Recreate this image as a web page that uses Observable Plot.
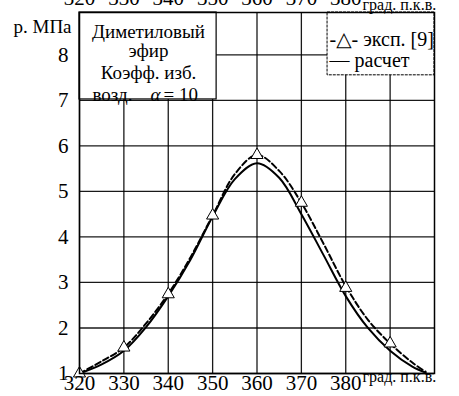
<!DOCTYPE html>
<html>
<head>
<meta charset="utf-8">
<script src="https://cdn.jsdelivr.net/npm/d3@7"></script>
<script src="https://cdn.jsdelivr.net/npm/@observablehq/plot@0.6"></script>
<style>
  html, body { margin: 0; padding: 0; background: white; }
  #chart svg, #chart svg text, #chart svg g { font-family: "Liberation Serif", Tinos, "DejaVu Serif", "Times New Roman", serif !important; }
</style>
</head>
<body>
<div id="chart"></div>
<script>
// ---- data ----
const xTickLabels = [320, 330, 340, 350, 360, 370, 380];
const yTickLabels = [1, 2, 3, 4, 5, 6, 7, 8];
const xGrid = [320, 330, 340, 350, 360, 370, 380, 390];
const yGrid = [1, 2, 3, 4, 5, 6, 7, 8];

// calculated curve ("расчет")
const calcAngle = [320, 325, 330, 335, 340, 345, 350, 355, 360, 365, 370, 375, 380, 385, 390, 395, 398];
const calcP     = [1.0, 1.2, 1.5, 2.02, 2.7, 3.5, 4.45, 5.27, 5.62, 5.3, 4.5, 3.6, 2.7, 2.0, 1.5, 1.15, 1.02];

// experimental dashed curve ("эксп. [9]")
const expCurveAngle = [320, 325, 330, 335, 340, 345, 350, 355, 360, 365, 370, 375, 380, 385, 390, 395, 398];
const expCurveP     = [1.0, 1.27, 1.57, 2.1, 2.75, 3.55, 4.47, 5.38, 5.8, 5.45, 4.75, 3.85, 2.92, 2.18, 1.66, 1.24, 1.04];

// experimental points (triangles)
const expAngle = [320, 330, 340, 350, 360, 370, 380, 390];
const expP     = [1.0, 1.57, 2.74, 4.47, 5.8, 4.75, 2.88, 1.66];

// annotation / legend texts
const noteLines = ["Диметиловый", "эфир", "Коэфф. изб."];
const noteLast = ["возд.", "α", "= 10"];
const legendExp = "-△- эксп. [9]";
const legendCalc = "— расчет";
const yUnit = "р. МПа";
const xUnit = "град. п.к.в.";

const calc = calcAngle.map((a, i) => ({a, p: calcP[i]}));
const expCurve = expCurveAngle.map((a, i) => ({a, p: expCurveP[i]}));
const exp = expAngle.map((a, i) => ({a, p: expP[i]}));

// box extents (in data units) for the note box and legend box
const noteBox = [{x1: 320, x2: 350.9, y1: 7.02, y2: 8.93}];
const legendBox = [{x1: 375.9, x2: 400, y1: 7.55, y2: 8.93}];

const serif = "Liberation Serif, DejaVu Serif, serif";

const plot = Plot.plot({
  width: 459,
  height: 396,
  marginLeft: 79,
  marginRight: 25,
  marginTop: 12,
  marginBottom: 23,
  style: {fontFamily: serif, fontSize: "20px", color: "black", background: "white", overflow: "visible"},
  x: {domain: [320, 400]},
  y: {domain: [1, 8.93]},
  marks: [
    Plot.gridX(xGrid, {stroke: "black", strokeOpacity: 0.9, strokeWidth: 1.3}),
    Plot.gridY(yGrid, {stroke: "black", strokeOpacity: 0.9, strokeWidth: 1.3}),
    Plot.rect(noteBox, {x1: "x1", x2: "x2", y1: "y1", y2: "y2", fill: "white", stroke: "black", strokeWidth: 1.2}),
    Plot.rect(legendBox, {x1: "x1", x2: "x2", y1: "y1", y2: "y2", fill: "white", stroke: "black", strokeWidth: 1, strokeDasharray: "3,1"}),
    Plot.line(expCurve, {x: "a", y: "p", curve: "catmull-rom", stroke: "black", strokeWidth: 2, strokeDasharray: "6,3"}),
    Plot.line(calc, {x: "a", y: "p", curve: "catmull-rom", stroke: "black", strokeWidth: 2}),
    Plot.dot(exp, {x: "a", y: "p", symbol: "triangle", r: 4.5, fill: "white", stroke: "black", strokeWidth: 1}),
    // note box text
    Plot.text([noteLines[0]], {frameAnchor: "top-left", dx: 69, dy: 12, fontSize: 19, textAnchor: "middle", fontFamily: serif}),
    Plot.text([noteLines[1]], {frameAnchor: "top-left", dx: 69, dy: 31, fontSize: 19, textAnchor: "middle", fontFamily: serif}),
    Plot.text([noteLines[2]], {frameAnchor: "top-left", dx: 69, dy: 53, fontSize: 19, textAnchor: "middle", fontFamily: serif}),
    Plot.text([noteLast[0]], {frameAnchor: "top-left", dx: 13, dy: 75, fontSize: 19, textAnchor: "start", fontFamily: serif}),
    Plot.text([noteLast[1]], {frameAnchor: "top-left", dx: 71, dy: 75, fontSize: 19, textAnchor: "start", fontStyle: "italic", fontFamily: serif}),
    Plot.text([noteLast[2]], {frameAnchor: "top-left", dx: 84, dy: 75, fontSize: 19, textAnchor: "start", fontFamily: serif}),
    // legend text
    Plot.text([legendExp], {frameAnchor: "top-right", dx: -105, dy: 19, fontSize: 20, textAnchor: "start", fontFamily: serif}),
    Plot.text([legendCalc], {frameAnchor: "top-right", dx: -105, dy: 40, fontSize: 20, textAnchor: "start", fontFamily: serif}),
    // unit labels
    Plot.text([yUnit], {frameAnchor: "top-left", dx: -66, dy: 7, fontSize: 19, textAnchor: "start", fontFamily: serif}),
    Plot.text([xUnit], {frameAnchor: "bottom-right", dx: -72, dy: 8, fontSize: 16, textAnchor: "start", fontFamily: serif}),
    Plot.text([xUnit], {frameAnchor: "top-right", dx: -72, dy: -14, fontSize: 16, textAnchor: "start", fontFamily: serif}),
    Plot.frame({stroke: "black", strokeWidth: 1.5}),
    Plot.axisY({ticks: yTickLabels, tickSize: 0, tickPadding: 11, label: null, fontSize: 21, fontFamily: serif}),
    Plot.axisX({ticks: xTickLabels, tickSize: 0, tickPadding: 2, label: null, fontSize: 21, fontFamily: serif}),
    Plot.axisX({anchor: "top", ticks: xTickLabels, tickSize: 0, tickPadding: 8, label: null, fontSize: 21, fontFamily: serif})
  ]
});
document.getElementById("chart").appendChild(plot);
</script>
</body>
</html>
